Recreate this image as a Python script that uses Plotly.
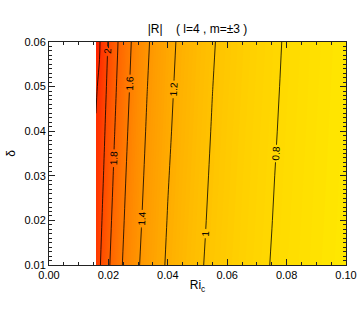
import plotly.graph_objects as go

# Ri_c grid (x) and delta grid (y)
ri_c = [0.0158, 0.017, 0.018, 0.019, 0.020, 0.022, 0.024, 0.026, 0.028, 0.030, 0.033,
        0.036, 0.040, 0.045, 0.050, 0.055, 0.060, 0.065, 0.070, 0.080, 0.090, 0.100]
delta = [0.01, 0.02, 0.03, 0.04, 0.05, 0.06]

# |R| values, one row per delta (estimated from the reference contours)
R_d010 = [2.118, 2.022, 1.951, 1.886, 1.826, 1.719, 1.628, 1.548, 1.477, 1.414, 1.332,
          1.261, 1.180, 1.095, 1.025, 0.965, 0.914, 0.869, 0.829, 0.762, 0.708, 0.662]
R_d020 = [2.140, 2.061, 1.987, 1.920, 1.858, 1.748, 1.654, 1.572, 1.499, 1.435, 1.350,
          1.277, 1.194, 1.108, 1.036, 0.975, 0.922, 0.876, 0.836, 0.767, 0.712, 0.666]
R_d030 = [2.165, 2.099, 2.024, 1.954, 1.890, 1.778, 1.680, 1.596, 1.521, 1.455, 1.368,
          1.293, 1.208, 1.120, 1.046, 0.984, 0.930, 0.883, 0.842, 0.772, 0.716, 0.669]
R_d040 = [2.190, 2.138, 2.060, 1.988, 1.923, 1.807, 1.707, 1.620, 1.543, 1.475, 1.386,
          1.310, 1.223, 1.132, 1.057, 0.993, 0.938, 0.890, 0.848, 0.778, 0.720, 0.672]
R_d050 = [2.215, 2.177, 2.096, 2.023, 1.955, 1.836, 1.733, 1.644, 1.566, 1.496, 1.404,
          1.326, 1.237, 1.144, 1.067, 1.002, 0.946, 0.898, 0.855, 0.783, 0.724, 0.675]
R_d060 = [2.326, 2.215, 2.132, 2.057, 1.987, 1.865, 1.760, 1.668, 1.588, 1.516, 1.423,
          1.342, 1.251, 1.157, 1.078, 1.012, 0.954, 0.905, 0.861, 0.788, 0.728, 0.679]

z = [R_d010, R_d020, R_d030, R_d040, R_d050, R_d060]

x_ticks = [0.00, 0.02, 0.04, 0.06, 0.08, 0.10]
x_ticklabels = ["0.00", "0.02", "0.04", "0.06", "0.08", "0.10"]
y_ticks = [0.01, 0.02, 0.03, 0.04, 0.05, 0.06]
y_ticklabels = ["0.01", "0.02", "0.03", "0.04", "0.05", "0.06"]

FONT = "Liberation Sans, Arial, Helvetica, sans-serif"
colorscale = [[0.0, "rgb(255,232,0)"], [0.5, "rgb(255,140,0)"], [1.0, "rgb(255,30,0)"]]

W, H = 361, 323

fig = go.Figure()
# finely banded filled background
fig.add_trace(go.Contour(
    x=ri_c, y=delta, z=z,
    colorscale=colorscale, zmin=0.66, zmax=2.33, zauto=False,
    autocontour=False,
    contours=dict(start=0.6, end=2.4, size=0.02, coloring="fill", showlines=False),
    line=dict(width=0),
    showscale=False, hoverinfo="skip",
))
# labelled contour lines
fig.add_trace(go.Contour(
    x=ri_c, y=delta, z=z,
    colorscale=[[0, "black"], [1, "black"]],
    autocontour=False,
    contours=dict(start=0.8, end=2.2, size=0.2, coloring="lines",
                  showlabels=True,
                  labelfont=dict(family=FONT, size=10, color="black"),
                  labelformat=".2~g"),
    line=dict(width=0.8, color="black"),
    showscale=False, hoverinfo="skip",
))

axis_common = dict(
    showline=True, linecolor="#222", linewidth=1, mirror="allticks",
    ticks="inside", ticklen=6, tickwidth=1, tickcolor="#222",
    showgrid=False, zeroline=False, automargin=False,
    ticklabeloverflow="allow",
    tickfont=dict(family=FONT, size=11, color="black"),
)

fig.update_xaxes(
    range=[0, 0.1], tickvals=x_ticks, ticktext=x_ticklabels,
    minor=dict(dtick=0.005, ticklen=3, ticks="inside", tickcolor="#222", showgrid=False),
    title=dict(text="Ri<sub>c</sub>", font=dict(family=FONT, size=12, color="black"), standoff=0),
    **axis_common,
)
fig.update_yaxes(
    range=[0.01, 0.06], tickvals=y_ticks, ticktext=y_ticklabels,
    minor=dict(dtick=0.001, ticklen=3, ticks="inside", tickcolor="#222", showgrid=False),
    title=dict(text="δ", font=dict(family=FONT, size=12, color="black"), standoff=6),
    **axis_common,
)

fig.update_layout(
    width=W, height=H,
    margin=dict(l=49, r=15, t=42, b=58, pad=0),
    paper_bgcolor="white", plot_bgcolor="white",
    title=dict(text="|R|\u00a0\u00a0\u00a0\u00a0(\u00a0l=4\u00a0,\u00a0m=±3\u00a0)",
               x=0.5, xref="paper", xanchor="center",
               y=1 - 29 / H, yref="container", yanchor="middle",
               font=dict(family=FONT, size=12, color="black")),
    showlegend=False,
)

fig.write_html(
    "out.html",
    config={"displayModeBar": False, "staticPlot": True},
    post_script="document.body.style.margin='0';document.documentElement.style.overflow='hidden';",
)
